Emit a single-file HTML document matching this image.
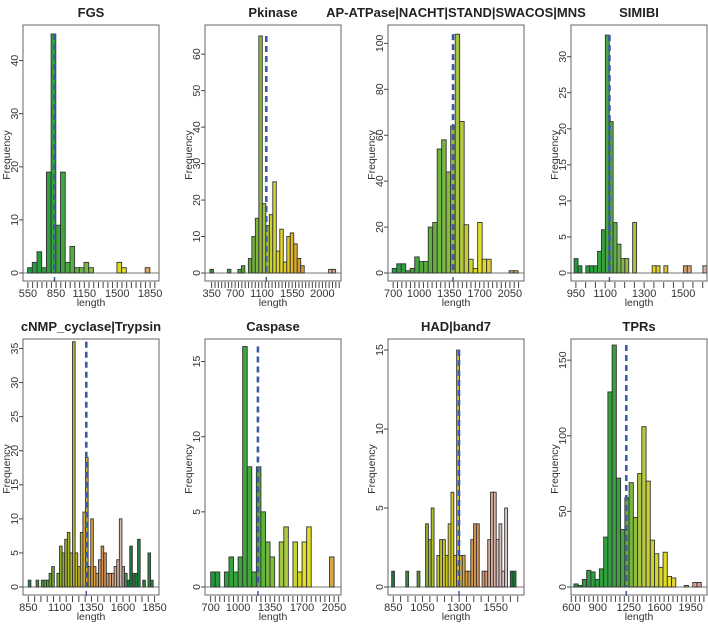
<!DOCTYPE html>
<html><head><meta charset="utf-8">
<style>
html,body{margin:0;padding:0;background:#fff;}
svg{display:block;font-family:"Liberation Sans",Arial,sans-serif;}
</style></head>
<body>
<svg id="chart" width="708" height="625" viewBox="0 0 708 625" xmlns="http://www.w3.org/2000/svg"></svg>
<script>
// ---- data (per panel) ----
const titles = ["FGS","Pkinase","AP-ATPase|NACHT|STAND|SWACOS|MNS","SIMIBI","cNMP_cyclase|Trypsin","Caspase","HAD|band7","TPRs"];
const binStarts = [547,325,689,941,850,700,839,630];
const binWidths = [50,52,52,20,20.6,50,19.3,48];
const counts1 = [1,2,4,1,19,45,9,19,2,5,1,1,2,1,0,0,0,0,0,2,1,0,0,0,0,1];
const counts2 = [1,0,0,0,0,1,0,0,1,2,0,4,10,15,65,19,13,16,25,6,12,3,10,11,8,4,2,0,0,0,0,0,0,0,1,1];
const counts3 = [2,4,4,1,2,7,5,5,20,22,54,58,44,64,104,66,21,6,2,22,6,6,0,0,0,0,1,1];
const counts4 = [2,1,0,1,1,1,3,6,33,21,7,4,2,2,0,7,0,0,0,0,1,1,0,1,0,0,0,0,1,1,0,0,0,1];
const counts5 = [1,0,0,1,0,1,1,1,2,3,0,2,6,5,7,8,5,36,5,3,8,11,19,3,10,3,2,4,6,5,2,2,2,3,4,10,3,2,1,6,2,2,7,0,1,0,5,1];
const counts6 = [1,1,0,1,2,1,2,16,8,1,8,5,3,2,0,3,4,0,3,1,3,4,0,0,0,0,2];
const counts7 = [1,0,0,0,0,1,0,0,0,1,0,0,4,3,5,0,2,3,3,2,4,6,2,15,2,2,1,1,3,4,4,0,1,1,3,6,6,3,4,1,5,0,1,1];
const counts8 = [2,1,5,11,10,5,12,33,129,160,72,38,59,69,46,75,106,70,31,22,13,23,7,6,0,0,1,0,3,3];
const medians = [833,1164,1392,1122,1309,1217,1299,1222];
const xDomains = [[498,1944],[251,2277],[640,2213],[925,1622],[808,1885],[638,2126],[814,1743],[597,2135]];
const yTops = [46.7,68.0,108,34.4,36.4,16.5,15.7,164];
const xTickLabels1 = [550,850,1150,1500,1850];
const xTickLabels2 = [350,700,1100,1550,2000];
const xTickLabels3 = [700,1000,1350,1700,2050];
const xTickLabels4 = [950,1100,1300,1500];
const xTickLabels5 = [850,1100,1350,1600,1850];
const xTickLabels6 = [700,1000,1350,1700,2050];
const xTickLabels7 = [850,1050,1300,1550];
const xTickLabels8 = [600,900,1250,1600,1950];
const xTickRanges = [[550,1900],[350,2250],[700,2150],[950,1600],[850,1850],[700,2100],[850,1700],[600,2100]];
const yTickLabels1 = [0,10,20,30,40];
const yTickLabels2 = [0,10,20,30,40,50,60];
const yTickLabels3 = [0,20,40,60,80,100];
const yTickLabels4 = [0,5,10,15,20,25,30];
const yTickLabels5 = [0,5,10,15,20,25,30,35];
const yTickLabels6 = [0,5,10,15];
const yTickLabels7 = [0,5,10,15];
const yTickLabels8 = [0,50,100,150];

// ---- styling (colour stops per panel) ----
const palettes = [
 [[550,"#1f9a40"],[900,"#3aa43e"],[1250,"#8cc050"],[1550,"#e6e020"],[1850,"#d9a060"]],
 [[350,"#2a9a44"],[900,"#5aa83e"],[1100,"#9abf3a"],[1300,"#d8d830"],[1450,"#e8d020"],[1650,"#d9a030"],[2050,"#d8a898"]],
 [[700,"#1e9a3e"],[1300,"#7ab840"],[1500,"#b8c840"],[1700,"#e6e020"],[2100,"#c8a070"]],
 [[950,"#1e9a3e"],[1100,"#3aa43e"],[1200,"#8cb850"],[1350,"#e6d820"],[1500,"#d9a060"],[1600,"#d8b0a8"]],
 [[850,"#2a8a40"],[1100,"#8aae30"],[1200,"#b8b820"],[1300,"#d8b030"],[1450,"#d89050"],[1580,"#d8b8b0"],[1640,"#1a7a3a"],[1850,"#2a8a40"]],
 [[700,"#1e9a3e"],[1200,"#4aac3a"],[1500,"#a8c840"],[1750,"#e6e020"],[2050,"#d8a040"]],
 [[850,"#1a7a3a"],[1050,"#6a9a40"],[1100,"#a8c030"],[1250,"#e0d020"],[1350,"#d8a040"],[1450,"#d89060"],[1550,"#d8b8b0"],[1620,"#e0d0d0"],[1640,"#1a7a3a"],[1750,"#1a7a3a"]],
 [[600,"#1e9a3e"],[1150,"#3aa43e"],[1400,"#b8c840"],[1700,"#e6e020"],[2000,"#d8a090"]]
];
const allCounts = [counts1,counts2,counts3,counts4,counts5,counts6,counts7,counts8];
const allXLabels = [xTickLabels1,xTickLabels2,xTickLabels3,xTickLabels4,xTickLabels5,xTickLabels6,xTickLabels7,xTickLabels8];
const allYLabels = [yTickLabels1,yTickLabels2,yTickLabels3,yTickLabels4,yTickLabels5,yTickLabels6,yTickLabels7,yTickLabels8];

const NS = "http://www.w3.org/2000/svg";
const svg = document.getElementById("chart");
function mk(tag, attrs, parent){
  const e = document.createElementNS(NS, tag);
  for (const k in attrs) e.setAttribute(k, attrs[k]);
  (parent||svg).appendChild(e);
  return e;
}
function hex(c){return [1,3,5].map(i=>parseInt(c.substr(i,2),16));}
function colorAt(stops, v){
  if (v<=stops[0][0]) return stops[0][1];
  for (let i=1;i<stops.length;i++){
    if (v<=stops[i][0]){
      const t=(v-stops[i-1][0])/(stops[i][0]-stops[i-1][0]);
      const a=hex(stops[i-1][1]), b=hex(stops[i][1]);
      return "rgb("+a.map((x,j)=>Math.round(x+(b[j]-x)*t)).join(",")+")";
    }
  }
  return stops[stops.length-1][1];
}

const lefts = [23,205,388,571];
const boxW = 136;
for (let p=0;p<8;p++){
  const col=p%4, row=Math.floor(p/4);
  const bx=lefts[col], by= row===0?25:339, bh=256;
  const base = by+bh-8;
  const dom = xDomains[p];
  const xs = v => bx + (v-dom[0])/(dom[1]-dom[0])*boxW;
  const ys = v => base - v/yTops[p]*(base-by);
  const g = mk("g",{});
  
  

  const t = mk("text",{x:bx+boxW/2,y:by-8,"text-anchor":"middle","font-size":"13","font-weight":"bold",fill:"#222"},g);
  t.textContent = titles[p];
  
  

  const bl = mk("line",{x1:bx,x2:bx+boxW,y1:base,y2:base,stroke:"#777","stroke-width":1},g);
  
  

  const cs = allCounts[p];
  for (let i=0;i<cs.length;i++){
    if (!cs[i]) continue;
    const x0 = binStarts[p]+i*binWidths[p], x1 = x0+binWidths[p];
    const r = mk("rect",{x:xs(x0),y:ys(cs[i]),width:xs(x1)-xs(x0),height:base-ys(cs[i]),
      fill:colorAt(palettes[p],(x0+x1)/2),stroke:"#333","stroke-width":0.9},g);
    
    
  }

  const maxC = Math.max(...cs);
  const ml = mk("line",{x1:xs(medians[p]),x2:xs(medians[p]),y1:ys(maxC),y2:base,stroke:"#3b5ba5","stroke-width":2.6,"stroke-dasharray":"6,4"},g);
  
  
  const mt = mk("line",{x1:xs(medians[p]),x2:xs(medians[p]),y1:by+bh-4,y2:by+bh+1,stroke:"#3b5ba5","stroke-width":1.5},g);
  
  

  const box = mk("rect",{x:bx,y:by,width:boxW,height:bh,fill:"none",stroke:"#666","stroke-width":1},g);
  
  

  const xr = xTickRanges[p];
  for (let v=xr[0]; v<=xr[1]; v+=50){
    const tk = mk("line",{x1:xs(v),x2:xs(v),y1:by+bh+1,y2:by+bh+7,stroke:"#444","stroke-width":1},g);
    
    
  }
  for (const v of allXLabels[p]){
    const tl = mk("text",{x:xs(v),y:by+bh+16,"text-anchor":"middle","font-size":"11",fill:"#333"},g);
    tl.textContent = v;
    
    
  }
  const xt = mk("text",{x:bx+boxW/2,y:by+bh+25,"text-anchor":"middle","font-size":"10.5",fill:"#333"},g);
  xt.textContent = "length";
  
  

  for (const v of allYLabels[p]){
    const tk = mk("line",{x1:bx-4,x2:bx,y1:ys(v),y2:ys(v),stroke:"#444","stroke-width":1},g);
    
    
    const lx = bx-5;
    const yl = mk("text",{x:lx,y:ys(v),"text-anchor":"middle","font-size":"10.5",fill:"#333",transform:"rotate(-90 "+lx+" "+ys(v)+")"},g);
    yl.textContent = v;
    
    
  }
  const yc = by+bh/2+2;
  const fx = bx-13;
  const yt = mk("text",{x:fx,y:yc,"text-anchor":"middle","font-size":"10.5",fill:"#333",transform:"rotate(-90 "+fx+" "+yc+")"},g);
  yt.textContent = "Frequency";
  
  
}
</script>
</body></html>
